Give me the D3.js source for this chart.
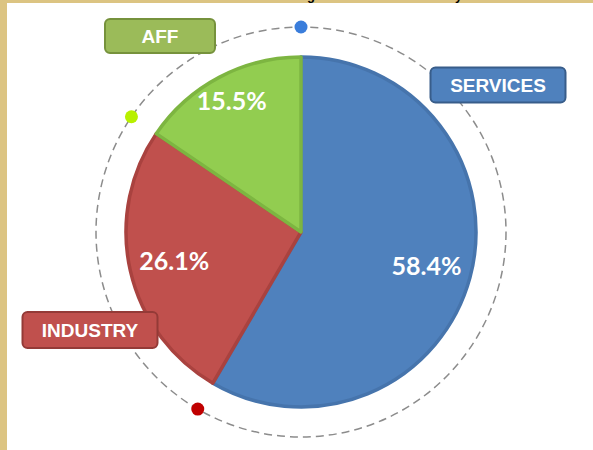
<!DOCTYPE html>
<html>
<head>
<meta charset="utf-8">
<script src="https://cdn.jsdelivr.net/npm/d3@7"></script>
<style>
  body { margin: 0; background: #fff; }
  svg { display: block; }
</style>
</head>
<body>
<svg id="chart" width="593" height="450"></svg>
<script>
// sector shares
var categories = ["SERVICES", "INDUSTRY", "AFF"];
var shares = [58.4, 26.1, 15.5];
var fills = ["#4F81BD", "#C0504D", "#92CD50"];
var edges = ["#4674AC", "#A9423F", "#7DB541"];
var boxFills = ["#4F81BD", "#C0504D", "#9BBB59"];
var boxEdges = ["#385D8A", "#943A37", "#76923C"];
var dotColors = ["#3A7DDB", "#C00000", "#B8F000"];

// where the name tags sit (layout only)
var tagPos = {
  "SERVICES": {x: 498, y: 85, w: 135, h: 35},
  "INDUSTRY": {x: 90, y: 330, w: 135, h: 36},
  "AFF": {x: 160, y: 36, w: 110, h: 34}
};

var svg = d3.select("#chart"),
    cx = 301, cy = 232,
    r = 177, ringR = 205;

// frame strips
svg.append("rect").attr("x", 0).attr("y", 0).attr("width", 593).attr("height", 3).attr("fill", "#DCC482");
svg.append("rect").attr("x", 0).attr("y", 0).attr("width", 7).attr("height", 450).attr("fill", "#DCC482");

// clipped title peeking at the top
svg.append("text")
  .attr("x", 252).attr("y", 0)
  .attr("font-family", "Liberation Sans, Arial, sans-serif")
  .attr("font-weight", "bold")
  .attr("font-size", 13)
  .attr("fill", "#000")
  .text("Percentage Share in the Economy");

var data = categories.map(function (c, i) {
  return {name: c, value: shares[i], i: i};
});

var pie = d3.pie().sort(null).value(function (d) { return d.value; });
var arcs = pie(data);

var g = svg.append("g").attr("transform", "translate(" + cx + "," + cy + ")");

// dashed ring
g.append("circle")
  .attr("r", ringR)
  .attr("fill", "none")
  .attr("stroke", "#8C8C8C")
  .attr("stroke-width", 1.5)
  .attr("stroke-dasharray", "8,5");

var arc = d3.arc().innerRadius(0).outerRadius(r - 2);

g.selectAll("path.slice")
  .data(arcs)
  .enter().append("path")
  .attr("class", "slice")
  .attr("d", arc)
  .attr("fill", function (d) { return fills[d.data.i]; })
  .attr("stroke", function (d) { return edges[d.data.i]; })
  .attr("stroke-width", 3.5)
  .attr("stroke-linejoin", "round");

// percent labels
g.selectAll("text.pct")
  .data(arcs)
  .enter().append("text")
  .attr("class", "pct")
  .attr("transform", function (d) {
    var lr = d.data.value < 20 ? 148 : 130;
    var c = d3.arc().innerRadius(lr).outerRadius(lr).centroid(d);
    return "translate(" + c[0] + "," + c[1] + ")";
  })
  .attr("text-anchor", "middle")
  .attr("dy", "0.36em")
  .attr("font-family", "Lato, sans-serif")
  .attr("font-weight", "bold")
  .attr("font-size", 25)
  .attr("fill", "#fff")
  .text(function (d) { return d.data.value.toFixed(1) + "%"; });

// dots on the ring at each slice start
g.selectAll("circle.dot")
  .data(arcs)
  .enter().append("circle")
  .attr("class", "dot")
  .attr("cx", function (d) { return ringR * Math.sin(d.startAngle); })
  .attr("cy", function (d) { return -ringR * Math.cos(d.startAngle); })
  .attr("r", 6.5)
  .attr("fill", function (d) { return dotColors[d.data.i]; });

// name tags
var tags = svg.selectAll("g.tag")
  .data(data)
  .enter().append("g")
  .attr("class", "tag")
  .attr("transform", function (d) {
    var p = tagPos[d.name];
    return "translate(" + p.x + "," + p.y + ")";
  });

tags.append("rect")
  .attr("x", function (d) { return -tagPos[d.name].w / 2; })
  .attr("y", function (d) { return -tagPos[d.name].h / 2; })
  .attr("width", function (d) { return tagPos[d.name].w; })
  .attr("height", function (d) { return tagPos[d.name].h; })
  .attr("rx", 5)
  .attr("fill", function (d) { return boxFills[d.i]; })
  .attr("stroke", function (d) { return boxEdges[d.i]; })
  .attr("stroke-width", 2);

tags.append("text")
  .attr("text-anchor", "middle")
  .attr("dy", "0.36em")
  .attr("font-family", "Liberation Sans, Arial, sans-serif")
  .attr("font-weight", "bold")
  .attr("font-size", 19)
  .attr("fill", "#fff")
  .text(function (d) { return d.name; });
</script>
</body>
</html>
